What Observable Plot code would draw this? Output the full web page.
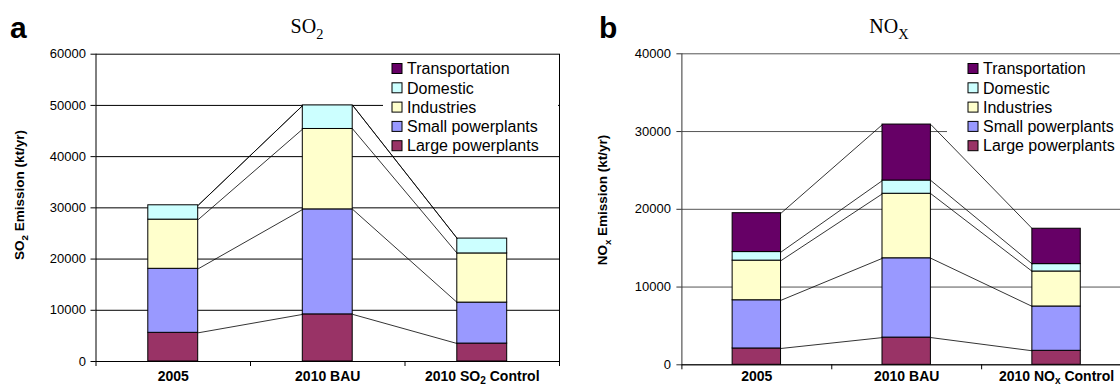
<!DOCTYPE html>
<html><head><meta charset="utf-8">
<script src="https://cdn.jsdelivr.net/npm/d3@7"></script>
<script src="https://cdn.jsdelivr.net/npm/@observablehq/plot@0.6"></script>
<style>
html,body{margin:0;padding:0;background:#fff;overflow:hidden;width:1120px;height:385px}
#wrap{position:relative;width:1120px;height:385px;overflow:hidden;background:#fff}
#wrap svg{position:absolute;top:0}
</style></head><body><div id="wrap"></div>
<script>
// ---- data ----
const categoriesSO2 = ["2005", "2010 BAU", "2010 SO2 Control"];
const categoriesNOx = ["2005", "2010 BAU", "2010 NOx Control"];
const sectors = ["Large powerplants", "Small powerplants", "Industries", "Domestic", "Transportation"];
const sectorColors = ["#993366", "#9999FF", "#FFFFCC", "#CCFFFF", "#660066"];

const so2Large = [5600, 9200, 3500];
const so2Small = [12500, 20500, 8000];
const so2Industries = [9600, 15700, 9600];
const so2Domestic = [2800, 4600, 2900];
const so2Transportation = [0, 0, 0];
const so2Ticks = [0, 10000, 20000, 30000, 40000, 50000, 60000];

const noxLarge = [2100, 3500, 1800];
const noxSmall = [6200, 10200, 5700];
const noxIndustries = [5100, 8300, 4500];
const noxDomestic = [1100, 1700, 950];
const noxTransportation = [5000, 7200, 4550];
const noxTicks = [0, 10000, 20000, 30000, 40000];

const FONT = "'Liberation Sans', Arial, sans-serif";
const SERIF = "'Liberation Serif', 'Times New Roman', serif";
const BW = 0.323; // bar width in band units

function buildTables(series) {
  const bars = [], tops = [];
  for (let i = 0; i < 3; i++) {
    let acc = 0; const t = [];
    series.forEach((s, k) => {
      const y1 = acc; acc += s[i];
      bars.push({i, sector: sectors[k], y1, y2: acc, v: s[i]});
      t.push(acc);
    });
    tops.push(t);
  }
  const links = [];
  for (let k = 0; k < series.length; k++)
    for (let i = 0; i < 2; i++)
      links.push({x1: i + 0.5 + BW / 2, y1: tops[i][k], x2: i + 1.5 - BW / 2, y2: tops[i + 1][k]});
  return {bars: bars.filter(d => d.v > 0), links};
}

function addSub(sel, parts, shiftFrac = 0.28) {
  const fs = parseFloat(sel.attr("font-size")) || 14;
  sel.text(null);
  const sh = fs * shiftFrac;
  sel.append("tspan").text(parts[0]);
  sel.append("tspan").attr("font-size", (fs * 0.72) + "px").attr("dy", sh).text(parts[1]);
  if (parts[2]) sel.append("tspan").attr("dy", -sh).text(parts[2]);
}

function panel(cfg) {
  const {bars, links} = buildTables(cfg.series);
  const svg = Plot.plot({
    width: cfg.width, height: 385,
    marginLeft: cfg.ml, marginRight: cfg.mr, marginTop: cfg.mt, marginBottom: cfg.mb,
    style: {fontFamily: FONT, color: "black", background: "transparent", overflow: "visible"},
    x: {domain: [0, 3]},
    y: {domain: [0, cfg.ymax]},
    color: {domain: sectors, range: sectorColors},
    marks: [
      Plot.gridY(cfg.ticks, {stroke: cfg.grid, strokeOpacity: 1, strokeWidth: 1}),
      () => d3.create("svg:rect")
          .attr("x", cfg.lgx).attr("y", 58).attr("width", cfg.lgw).attr("height", 92)
          .attr("fill", "white").node(),
      Plot.ruleX([0], {stroke: cfg.axis}),
      cfg.border ? Plot.ruleX([3], {stroke: "black"}) : null,
      Plot.ruleY([0], {stroke: "black"}),
      Plot.axisY(cfg.ticks, {tickSize: 5, tickPadding: cfg.tp, fontSize: 13, stroke: cfg.axis, label: null, tickFormat: d => String(d)}),
      Plot.axisX([0, 1, 2, 3], {tickSize: 5, tickFormat: () => "", stroke: "black", label: null}),
      Plot.axisX([0.5, 1.5, 2.5], {tickSize: 0, tickPadding: cfg.xp, fontSize: 14, fontWeight: "bold", label: null,
        tickFormat: d => cfg.cats[Math.floor(d)]}),
      Plot.rectY(bars, {x1: d => d.i + 0.5 - BW / 2, x2: d => d.i + 0.5 + BW / 2, y1: "y1", y2: "y2",
        fill: "sector", stroke: "black", strokeWidth: 1}),
      Plot.link(links, {x1: "x1", y1: "y1", x2: "x2", y2: "y2", stroke: "black", strokeWidth: 0.8})
    ]
  });
  const s = d3.select(svg);
  s.style("left", cfg.left + "px");
  s.selectAll("text").each(function () {
    const t = d3.select(this);
    const txt = t.text();
    const m = txt.match(/^(.*?(?:SO|NO))(2|x)(.*)$/);
    if (m && t.selectAll("tspan").size() <= 1) {
      if (!t.attr("font-size")) t.attr("font-size", 14);
      addSub(t, [m[1], m[2], m[3]], 0.2);
    }
  });
  // panel letter
  s.append("text").attr("x", cfg.letterX).attr("y", 38).attr("font-size", 30).attr("font-weight", "bold")
    .attr("text-anchor", "start").attr("font-family", FONT).text(cfg.letter);
  // title
  const tt = s.append("text").attr("x", cfg.titleX).attr("y", 33).attr("font-size", 20)
    .attr("font-family", SERIF).attr("text-anchor", "middle");
  addSub(tt, cfg.title);
  // y-axis title
  const yt = s.append("text").attr("transform", `translate(${cfg.ytX},${cfg.ytY}) rotate(-90)`)
    .attr("text-anchor", "middle").attr("font-size", 13.5).attr("font-weight", "bold").attr("font-family", FONT);
  addSub(yt, cfg.ytitle);
  // legend
  const lg = s.append("g").attr("font-family", FONT).attr("font-size", 16).attr("text-anchor", "start");
  const order = sectors.map((d, k) => k).reverse();
  order.forEach((k, r) => {
    const cy = 68.5 + r * 19.3;
    lg.append("rect").attr("x", cfg.lsx).attr("y", cy - 5).attr("width", 10).attr("height", 10)
      .attr("fill", sectorColors[k]).attr("stroke", "black").attr("stroke-width", 1);
    lg.append("text").attr("x", cfg.lsx + 15).attr("y", cy).attr("dy", "0.36em").text(sectors[k]);
  });
  document.getElementById("wrap").appendChild(svg);
}

panel({
  left: 0, width: 560, ml: 95.5, mr: 1, mt: 53.7, mb: 24,
  series: [so2Large, so2Small, so2Industries, so2Domestic, so2Transportation],
  ticks: so2Ticks, ymax: 60000, cats: categoriesSO2, grid: "black", axis: "black", border: true,
  tp: 5, xp: 9.5, letter: "a", letterX: 10, title: ["SO", "2", ""], titleX: 307,
  ytitle: ["SO", "2", " Emission (kt/yr)"], ytX: 24, ytY: 195,
  lgx: 383, lgw: 175, lsx: 392
});
panel({
  left: 560, width: 571, ml: 121.4, mr: 0, mt: 53.3, mb: 20.7,
  series: [noxLarge, noxSmall, noxIndustries, noxDomestic, noxTransportation],
  ticks: noxTicks, ymax: 40000, cats: categoriesNOx, grid: "#555", axis: "#333", border: false,
  tp: 6, xp: 6.3, letter: "b", letterX: 39, title: ["NO", "X", ""], titleX: 329,
  ytitle: ["NO", "x", " Emission (kt/yr)"], ytX: 47, ytY: 200,
  lgx: 387, lgw: 184, lsx: 408
});
</script></body></html>
